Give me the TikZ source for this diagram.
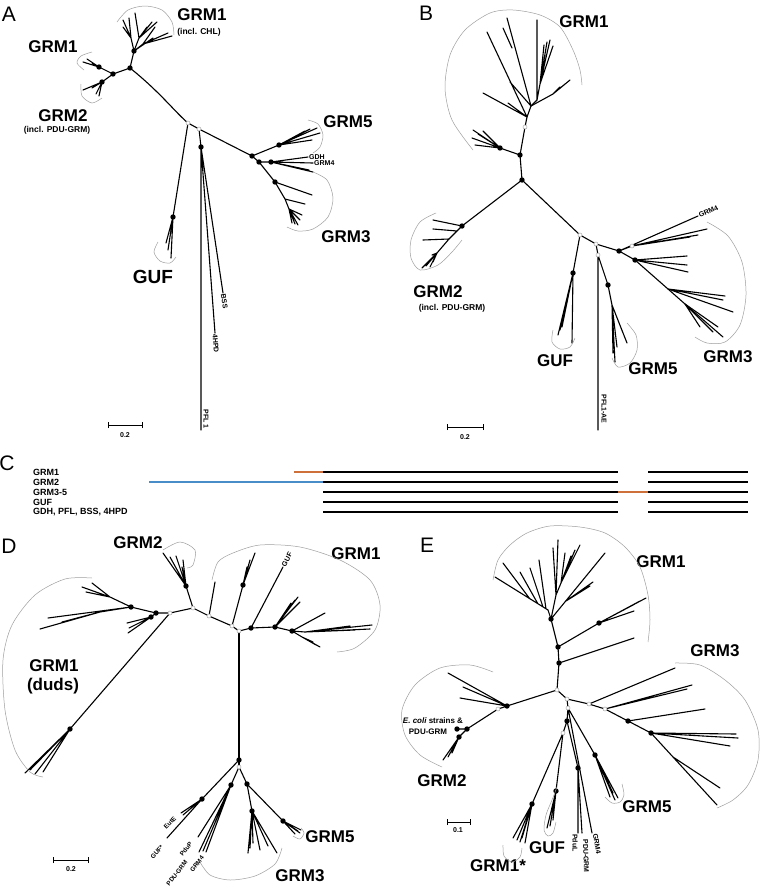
\documentclass[tikz,border=0pt]{standalone}
\usepackage{fontspec}
\setmainfont{Liberation Sans}
\definecolor{orng}{RGB}{205,112,58}
\definecolor{blu}{RGB}{72,140,200}
\begin{document}
\begin{tikzpicture}[x=1pt,y=-1pt,
 br/.style={line width=1.1pt,line cap=round,line join=round},
 arcl/.style={gray!75,line width=0.5pt},
 big/.style={font=\fontsize{17}{17}\selectfont\bfseries,inner sep=0pt},
 sub/.style={font=\fontsize{8.5}{9}\selectfont\bfseries,inner sep=0pt},
 tiny/.style={font=\fontsize{7}{7}\selectfont\bfseries,inner sep=1pt},
 tinier/.style={font=\fontsize{6.3}{6.3}\selectfont\bfseries,inner sep=0pt},
 lab8/.style={font=\fontsize{8}{8}\selectfont\bfseries,inner sep=0pt},
 clab/.style={font=\fontsize{9}{9}\selectfont\bfseries,inner sep=0pt,anchor=west},
 pan/.style={font=\fontsize{21}{21}\selectfont,inner sep=0pt},
 cbar/.style={line width=2.4pt},
 sbar/.style={line width=0.8pt},
]
\useasboundingbox (0,0) rectangle (760,887);
\fill[white] (0,0) rectangle (760,887);
\newcommand\fdots[1]{\foreach \n in {#1} \fill (\n) circle (2.7);}
\newcommand\odots[1]{\foreach \n in {#1} \filldraw[fill=white,draw=gray!70,line width=0.5pt] (\n) circle (2);}

%================ PANEL A ================
\node[pan] (lA) at (9,14) {A};
\coordinate (aR1) at (188,123);
\coordinate (aR2) at (199,129);
\coordinate (aG) at (130,68);
\coordinate (aG1) at (134,51);
\coordinate (aGa) at (131,38);
\coordinate (aGb) at (139,38);
\coordinate (aGc) at (143,44);
\coordinate (aL) at (113,74);
\coordinate (aL1) at (99,67);
\coordinate (aL2) at (102,82);
\coordinate (aR) at (252,156);
\coordinate (a5) at (279,145);
\coordinate (a34) at (259,162);
\coordinate (a4) at (271,162);
\coordinate (a3) at (275,182);
\coordinate (a3b) at (285,199);
\coordinate (a3c) at (289,209);
\coordinate (aU) at (173,217);
\coordinate (aP) at (201,147);
\coordinate (aPFL) at (201,430);
\coordinate (aHPD) at (215,333);
\coordinate (aBSS) at (223,293);
\coordinate (aGDH) at (308,157);
\coordinate (aGRM4) at (313,163);

\draw[br] (aG) .. controls (160,92) and (175,112) .. (aR1) -- (aR2) -- (aR);
\draw[br] (aG) -- (aG1) -- (aGa) (aGa) -- (123,20) (aGa) -- (123,27) (aGa) -- (129,18)
  (aG1) -- (aGb) (aGb) -- (135,13) (aGb) -- (147,27) (aGb) -- (152,22) (aGb) -- (157,22)
  (aG1) -- (aGc) (aGc) -- (168,33) (aGc) -- (172,36) (aGc) -- (155,27) (aG1) -- (153,38);
\draw[br] (aG) -- (aL) -- (aL1) (aL) -- (aL2)
  (aL1) -- (83,62) (aL1) -- (87,59) (aL1) -- (92,63)
  (aL2) -- (83,90) (aL2) -- (92,88) (aL2) -- (96,94) (aL2) -- (99,96);
\draw[br] (aR) -- (a5) (a5) -- (310,129) (a5) -- (317,128) (a5) -- (320,133) (a5) -- (312,140) (a5) -- (305,131)
  (aR) -- (a34) -- (a4) (a4) -- (aGDH) (a4) -- (aGRM4) (a4) -- (313,172) (a4) -- (309,170)
  (a34) -- (a3) (a3) -- (312,195) (a3) -- (a3b) (a3b) -- (305,204) (a3b) -- (a3c)
  (a3c) -- (302,215) (a3c) -- (298,225) (a3c) -- (295,224) (a3c) -- (292,223) (a3c) -- (300,220);
\draw[br] (aR1) -- (aU) (aU) -- (166,243) (aU) -- (171,258) (aU) -- (168,250);
\draw[br] (aR2) -- (aP) (aP) -- (aPFL) (aP) -- (aHPD) (aP) -- (aBSS);
\fdots{aG,aG1,aL,aL1,aL2,aR,a5,a34,a4,a3,aU,aP}
\odots{aR1,aR2}

\node[tiny,anchor=west] (tGDH) at (aGDH) {GDH};
\node[tiny,anchor=west] (tGRM4a) at (aGRM4) {GRM4};
\node[tiny,anchor=west,rotate=-81] (tBSS) at (aBSS) {BSS};
\node[tiny,anchor=west,rotate=-86] (tHPD) at (aHPD) {4HPD};
\node[tiny,rotate=-90] (tPFL) at (206,419) {PFL 1};

\node[big] (aGRM1t) at (202,15) {GRM1};
\node[sub] (aCHL) at (199,32) {(incl. CHL)};
\node[big] (aGRM1l) at (53,47) {GRM1};
\node[big] (aGRM2) at (63,116) {GRM2};
\node[sub] (aPDU) at (57,130) {(incl. PDU-GRM)};
\node[big] (aGRM5) at (348,122) {GRM5};
\node[big] (aGRM3) at (346,237) {GRM3};
\node[big,font=\fontsize{19}{19}\selectfont\bfseries] (aGUF) at (153,277) {GUF};

\draw[arcl] plot[smooth] coordinates {(117,22) (128,10) (145,6) (162,10) (172,22) (174,35)};
\draw[arcl] plot[smooth] coordinates {(92,52) (81,56) (77,63) (84,70)};
\draw[arcl] plot[smooth] coordinates {(81,84) (82,96) (92,103) (102,98)};
\draw[arcl] plot[smooth] coordinates {(308,120) (318,124) (323,135) (320,147) (313,153)};
\draw[arcl] plot[smooth] coordinates {(313,172) (327,180) (333,198) (328,217) (313,229) (298,231) (287,227)};
\draw[arcl] plot[smooth] coordinates {(158,242) (154,252) (160,261) (170,263) (176,257)};

\coordinate (sA1) at (108,425); \coordinate (sA2) at (142,425);
\draw[sbar] (sA1) -- (sA2) ([yshift=-3pt]sA1) -- ([yshift=3pt]sA1) ([yshift=-3pt]sA2) -- ([yshift=3pt]sA2);
\node[tiny] (sAt) at (125,435) {0.2};

%================ PANEL B ================
\node[pan] (lB) at (426,13) {B};
\coordinate (bC) at (522,180);
\coordinate (bB1) at (520,155);
\coordinate (bL) at (500,148);
\coordinate (bO) at (525,127);
\coordinate (b1) at (527,117);
\coordinate (b2) at (531,106);
\coordinate (b3) at (537,100);
\coordinate (b5) at (540,84);
\coordinate (bF) at (553,94);
\coordinate (bG2) at (462,226);
\coordinate (bG2a) at (457,231);
\coordinate (bG2b) at (449,239);
\coordinate (bG2c) at (437,253);
\coordinate (bO1) at (580,235);
\coordinate (bO2) at (596,244);
\coordinate (b3a) at (619,251);
\coordinate (b3b) at (635,260);
\coordinate (b3c) at (668,289);
\coordinate (b3d) at (685,304);
\coordinate (bO4) at (632,246);
\coordinate (bGU) at (573,273);
\coordinate (bO3) at (598,255);
\coordinate (bPFL) at (598,430);
\coordinate (b5n) at (608,285);
\coordinate (b5m) at (612,305);
\coordinate (bGRM4) at (698,216);

\draw[br] (bC) -- (bB1) -- (bO) -- (b1) -- (b2) -- (b3) (bB1) -- (bL);
\draw[br] (bL) -- (473,130) (bL) -- (472,138) (bL) -- (475,145) (bL) -- (478,134) (bL) -- (483,131);
\draw[br] (b1) -- (483,93) (b1) -- (487,32) (b1) -- (508,103)
  (b2) -- (510,82) (b2) -- (507,18) (512,48) -- (503,28)
  (b3) -- (537,20) (b3) -- (b5) (b5) -- (550,40) (b5) -- (547,42) (b5) -- (544,45) (b5) -- (553,46)
  (b2) -- (bF) (bF) -- (570,80) (bF) -- (565,84) (bF) -- (560,87);
\draw[br] (bC) -- (bG2) -- (bG2a) -- (bG2b) -- (bG2c)
  (bG2) -- (433,220) (bG2a) -- (433,229) (bG2b) -- (423,240)
  (bG2c) -- (422,268) (bG2c) -- (426,266) (bG2c) -- (430,267) (bG2c) -- (432,255) (bG2c) -- (433,262);
\draw[br] (bC) -- (bO1) -- (bO2) -- (b3a) -- (b3b) -- (b3c) -- (b3d) -- (723,337);
\draw[br] (bO1) -- (bGU) (bGU) -- (558,335) (bGU) -- (562,327) (bGU) -- (572,343) (bGU) -- (560,330);
\draw[br] (bO2) -- (bO3) -- (bPFL) (bO3) -- (b5n) -- (b5m)
  (b5m) -- (615,362) (b5m) -- (627,343) (b5m) -- (623,333) (b5m) -- (617,347) (b5m) -- (613,353);
\draw[br] (b3a) -- (bGRM4) (b3a) -- (bO4) (bO4) -- (707,229) (bO4) -- (698,235) (bO4) -- (690,237);
\draw[br] (b3b) -- (687,256) (b3b) -- (687,265) (b3b) -- (688,272)
  (b3c) -- (725,296) (b3c) -- (723,300) (b3c) -- (733,312)
  (b3d) -- (700,327) (b3d) -- (718,327) (b3d) -- (713,332);
\fdots{bC,bB1,bL,bG2,b3a,b3b,bGU,b5n}
\odots{bO,bO1,bO2,bO3,bO4}

\node[tiny,anchor=west,rotate=24] (tGRM4b) at (bGRM4) {GRM4};
\node[tiny,rotate=-90] (tPFLAE) at (604,409) {PFL1-AE};
\node[big] (bGRM1) at (584,22) {GRM1};
\node[big] (bGRM2) at (438,292) {GRM2};
\node[sub] (bPDU) at (452,308) {(incl. PDU-GRM)};
\node[big] (bGUF) at (555,361) {GUF};
\node[big] (bGRM5) at (653,369) {GRM5};
\node[big] (bGRM3) at (728,357) {GRM3};

\draw[arcl] plot[smooth] coordinates {(473,150) (452,120) (445,88) (450,55) (465,30) (490,13) (513,10) (540,15) (560,27) (573,50) (580,70) (582,85)};
\draw[arcl] plot[smooth] coordinates {(436,213) (420,222) (411,240) (411,258) (420,270) (438,265) (452,252) (462,240)};
\draw[arcl] plot[smooth] coordinates {(553,330) (552,342) (560,349) (570,347) (575,338)};
\draw[arcl] plot[smooth] coordinates {(627,323) (636,335) (637,350) (630,363) (618,367) (612,358)};
\draw[arcl] plot[smooth] coordinates {(707,222) (728,236) (742,262) (746,295) (740,325) (725,342) (707,343) (695,337)};

\coordinate (sB1) at (447,427); \coordinate (sB2) at (483,427);
\draw[sbar] (sB1) -- (sB2) ([yshift=-3pt]sB1) -- ([yshift=3pt]sB1) ([yshift=-3pt]sB2) -- ([yshift=3pt]sB2);
\node[tiny] (sBt) at (465,437) {0.2};

%================ PANEL C ================
\node[pan] (lC) at (7,463) {C};
\node[clab] (c1) at (33,472) {GRM1};
\node[clab] (c2) at (33,482) {GRM2};
\node[clab] (c3) at (33,492) {GRM3-5};
\node[clab] (c4) at (33,502) {GUF};
\node[clab] (c5) at (33,512) {GDH, PFL, BSS, 4HPD};
\foreach \y in {472,482,492,502,512} {
  \draw[cbar] (323,\y) -- (618,\y);
  \draw[cbar] (648,\y) -- (748,\y);
}
\draw[cbar,orng] (294,472) -- (323,472);
\draw[cbar,blu] (149,482) -- (323,482);
\draw[cbar,orng] (618,492) -- (648,492);

%================ PANEL D ================
\node[pan] (lD) at (9,546) {D};
\coordinate (dCen) at (239,631);
\coordinate (dO4) at (232,626);
\coordinate (dO2) at (209,616);
\coordinate (dO3) at (193,608);
\coordinate (dO1) at (170,613);
\coordinate (dB) at (156,613);
\coordinate (dA) at (131,607);
\coordinate (dA1) at (110,597);
\coordinate (dA2) at (100,612);
\coordinate (dBb) at (151,617);
\coordinate (dLong) at (70,729);
\coordinate (dG2) at (186,586);
\coordinate (dG1) at (243,585);
\coordinate (d1) at (251,628);
\coordinate (d2) at (275,627);
\coordinate (d3) at (292,631);
\coordinate (d3a) at (305,632);
\coordinate (d3b) at (302,637);
\coordinate (dBot) at (239,760);
\coordinate (dO5) at (239,767);
\coordinate (dE) at (202,799);
\coordinate (dP) at (231,785);
\coordinate (dR) at (247,784);
\coordinate (dR3) at (252,811);
\coordinate (dR5) at (283,821);
\coordinate (dGUF) at (283,567);
\coordinate (dEut) at (181,813);
\coordinate (dGUFs) at (167,838);
\coordinate (dPduP) at (198,837);
\coordinate (dPDU) at (199,852);
\coordinate (dGRM4) at (206,852);

\draw[br] (dCen) -- (dO4) -- (dO2) -- (dO3) -- (dO1) -- (dB) -- (dA);
\draw[br] (dA) -- (dA1) (dA1) -- (82,587) (dA1) -- (92,583) (dA1) -- (86,592)
  (dA) -- (48,618) (dA) -- (dA2) (dA2) -- (40,629) (dA2) -- (77,618) (dA2) -- (62,622)
  (dB) -- (dBb) (dBb) -- (127,623) (dBb) -- (128,633) (dBb) -- (129,628) (dBb) -- (135,621);
\draw[br] (dO1) -- (dLong) (dLong) -- (25,773) (dLong) -- (35,774) (dLong) -- (43,772) (dLong) -- (30,770);
\draw[br] (dO3) -- (dG2) (dG2) -- (163,553) (dG2) -- (170,557) (dG2) -- (182,567) (dG2) -- (183,560) (dG2) -- (176,556);
\draw[br] (dO2) -- (215,582);
\draw[br] (dO4) -- (dG1) (dG1) -- (255,553) (dG1) -- (247,567) (dG1) -- (250,560);
\draw[br] (dCen) -- (d1) -- (d2) -- (d3) (d1) -- (dGUF)
  (d2) -- (298,597) (d2) -- (295,600) (d2) -- (291,603) (d2) -- (300,602)
  (d3) -- (325,613) (d3) -- (d3a) (d3a) -- (372,625) (d3a) -- (370,629) (d3a) -- (355,630) (d3a) -- (350,626)
  (d3) -- (d3b) (d3b) -- (320,647) (d3b) -- (316,645) (d3b) -- (313,642);
\draw[br] (dCen) -- (dBot) -- (dO5);
\draw[br] (dBot) -- (dE) (dE) -- (dEut) (dE) -- (dGUFs) (dE) -- (183,815);
\draw[br] (dO5) -- (dP) (dP) -- (dPduP) (dP) -- (dPDU) (dP) -- (dGRM4) (dP) -- (203,851);
\draw[br] (dO5) -- (dR) -- (dR3) (dR3) -- (248,853) (dR3) -- (253,843) (dR3) -- (260,850) (dR3) -- (277,853) (dR3) -- (268,846) (dR3) -- (250,848)
  (dR) -- (dR5) (dR5) -- (300,833) (dR5) -- (298,831) (dR5) -- (295,834) (dR5) -- (301,830);
\fdots{dA,dB,dBb,dLong,dG2,dG1,d1,d2,d3,dBot,dE,dP,dR,dR3,dR5}
\odots{dCen,dO4,dO2,dO3,dO1,dO5}

\node[tiny,anchor=west,rotate=62] (tDGUF) at (dGUF) {GUF};
\node[tinier,rotate=45] (tEut) at (170,823) {EutE};
\node[tinier,rotate=48] (tGUFs) at (157,852) {GUF*};
\node[tinier,rotate=52] (tPduP) at (186,849) {PduP};
\node[tinier,rotate=52] (tPDUd) at (177,873) {PDU-GRM};
\node[tinier,rotate=52] (tGRM4d) at (197,864) {GRM4};
\node[big] (dGRM2) at (138,543) {GRM2};
\node[big] (dGRM1r) at (356,554) {GRM1};
\node[big] (dGRM1d) at (54,666) {GRM1};
\node[big] (dduds) at (53,686) {(duds)};
\node[big] (dGRM5) at (330,837) {GRM5};
\node[big] (dGRM3) at (300,876) {GRM3};

\draw[arcl] plot[smooth] coordinates {(92,578) (65,579) (35,595) (12,625) (3,660) (5,710) (15,750) (30,772) (43,777)};
\draw[arcl] plot[smooth] coordinates {(163,550) (180,542) (195,550) (193,565) (187,568)};
\draw[arcl] plot[smooth] coordinates {(212,580) (218,562) (233,553) (260,545) (300,547) (340,560) (370,580) (380,605) (375,630) (355,648) (337,652)};
\draw[arcl] plot[smooth] coordinates {(293,836) (300,839) (304,833) (301,828)};
\draw[arcl] plot[smooth] coordinates {(200,862) (210,875) (230,880) (255,876) (275,864) (282,848)};

\coordinate (sD1) at (53,860); \coordinate (sD2) at (88,860);
\draw[sbar] (sD1) -- (sD2) ([yshift=-3pt]sD1) -- ([yshift=3pt]sD1) ([yshift=-3pt]sD2) -- ([yshift=3pt]sD2);
\node[tiny] (sDt) at (71,869) {0.2};

%================ PANEL E ================
\node[pan] (lE) at (427,545) {E};
\coordinate (eC) at (557,690);
\coordinate (e1) at (559,663);
\coordinate (e2) at (558,647);
\coordinate (e3) at (551,619);
\coordinate (eF) at (548,610);
\coordinate (eF2) at (556,595);
\coordinate (eF3) at (561,583);
\coordinate (eFr) at (566,601);
\coordinate (e2a) at (599,623);
\coordinate (eL) at (507,706);
\coordinate (eO4) at (498,709);
\coordinate (eG) at (467,729);
\coordinate (eEc) at (457,729);
\coordinate (eG2) at (459,737);
\coordinate (eO2) at (567,699);
\coordinate (eO5) at (589,704);
\coordinate (eO6) at (605,709);
\coordinate (e3a) at (628,721);
\coordinate (e3b) at (651,733);
\coordinate (eX) at (673,757);
\coordinate (eO3) at (568,708);
\coordinate (eD) at (567,721);
\coordinate (eO7) at (563,733);
\coordinate (eG1) at (532,804);
\coordinate (eGU) at (556,791);
\coordinate (eP) at (578,768);
\coordinate (e5) at (595,755);

\draw[br] (eC) -- (e1) -- (e2) -- (e3) -- (eF) (e1) -- (634,638)
  (e2) -- (e2a) (e2a) -- (646,598) (e2a) -- (633,605) (e2a) -- (634,611) (e2a) -- (640,601);
\draw[br] (eF) -- (495,577) (530,599) -- (503,563) (538,604) -- (520,572) (543,607) -- (530,568) (546,609) -- (539,560)
  (e3) -- (eF2) -- (558,540) (eF2) -- (553,548) (eF2) -- (eF3) (eF3) -- (565,553) (eF3) -- (580,545) (eF3) -- (575,550) (eF3) -- (571,556)
  (e3) -- (605,553) (eFr) -- (593,582) (eFr) -- (590,586);
\draw[br] (eC) -- (eL) -- (eO4) -- (eG) -- (eEc) (eG) -- (eG2)
  (eL) -- (448,673) (eL) -- (463,687) (eL) -- (460,698)
  (eG2) -- (443,760) (eG2) -- (452,753) (eG2) -- (448,757);
\draw[br] (eC) -- (eO2) -- (eO5) -- (eO6) -- (e3a) -- (e3b) -- (eX) -- (717,805)
  (eO5) -- (675,668) (eO6) -- (692,685) (eO6) -- (687,689) (e3a) -- (705,709)
  (e3b) -- (738,738) (e3b) -- (736,734) (e3b) -- (730,746) (eX) -- (720,788);
\draw[br] (eO2) -- (eO3) -- (eD) -- (eO7) -- (eG1)
  (eG1) -- (517,840) (eG1) -- (513,838) (eG1) -- (520,842) (eG1) -- (525,843) (eG1) -- (522,838)
  (eO7) -- (eGU) (eGU) -- (547,828) (eGU) -- (553,820) (eGU) -- (550,826)
  (eD) -- (eP) (eP) -- (578,833) (eP) -- (582,833)
  (eO3) -- (592,833) (eO3) -- (e5) (e5) -- (618,798) (e5) -- (615,800) (e5) -- (610,797) (e5) -- (613,793);
\fdots{e1,e2,e3,e2a,eL,eG,eEc,eG2,e3a,e3b,eD,eG1,eGU,eP,e5}
\odots{eC,eO2,eO3,eO4,eO5,eO6,eO7}

\node[lab8] (tEcoli) at (433,721) {\itshape E. coli\upshape{} strains \&};
\node[lab8] (tEpdu) at (428,732) {PDU-GRM};
\node[tiny,rotate=-90] (tPduL) at (575,843) {PduL};
\node[tiny,rotate=-88] (tPDUe) at (586,856) {PDU-GRM};
\node[tiny,rotate=-80] (tGRM4e) at (597,844) {GRM4};
\node[big] (eGRM1) at (661,562) {GRM1};
\node[big] (eGRM3) at (715,651) {GRM3};
\node[big] (eGRM2) at (442,781) {GRM2};
\node[big] (eGRM5) at (647,807) {GRM5};
\node[big] (eGUF) at (547,848) {GUF};
\node[big] (eGRM1s) at (498,866) {GRM1*};

\draw[arcl] plot[smooth] coordinates {(493,580) (498,560) (510,545) (527,533) (550,526) (580,527) (605,533) (625,547) (640,567) (648,595) (650,620) (648,642)};
\draw[arcl] plot[smooth] coordinates {(675,663) (700,665) (725,680) (745,700) (758,730) (758,760) (748,785) (733,800) (717,808)};
\draw[arcl] plot[smooth] coordinates {(493,672) (470,665) (440,668) (415,685) (402,710) (405,735) (420,755) (442,767)};
\draw[arcl] plot[smooth] coordinates {(605,797) (612,803) (620,802) (624,795) (622,784)};
\draw[arcl] plot[smooth] coordinates {(557,787) (552,800) (546,815) (544,830) (548,836) (553,833) (556,822)};
\draw[arcl] plot[smooth] coordinates {(503,845) (504,856) (512,862) (520,857) (522,848)};

\coordinate (sE1) at (447,822); \coordinate (sE2) at (470,822);
\draw[sbar] (sE1) -- (sE2) ([yshift=-3pt]sE1) -- ([yshift=3pt]sE1) ([yshift=-3pt]sE2) -- ([yshift=3pt]sE2);
\node[tiny] (sEt) at (458,830) {0.1};
\end{tikzpicture}
\end{document}
